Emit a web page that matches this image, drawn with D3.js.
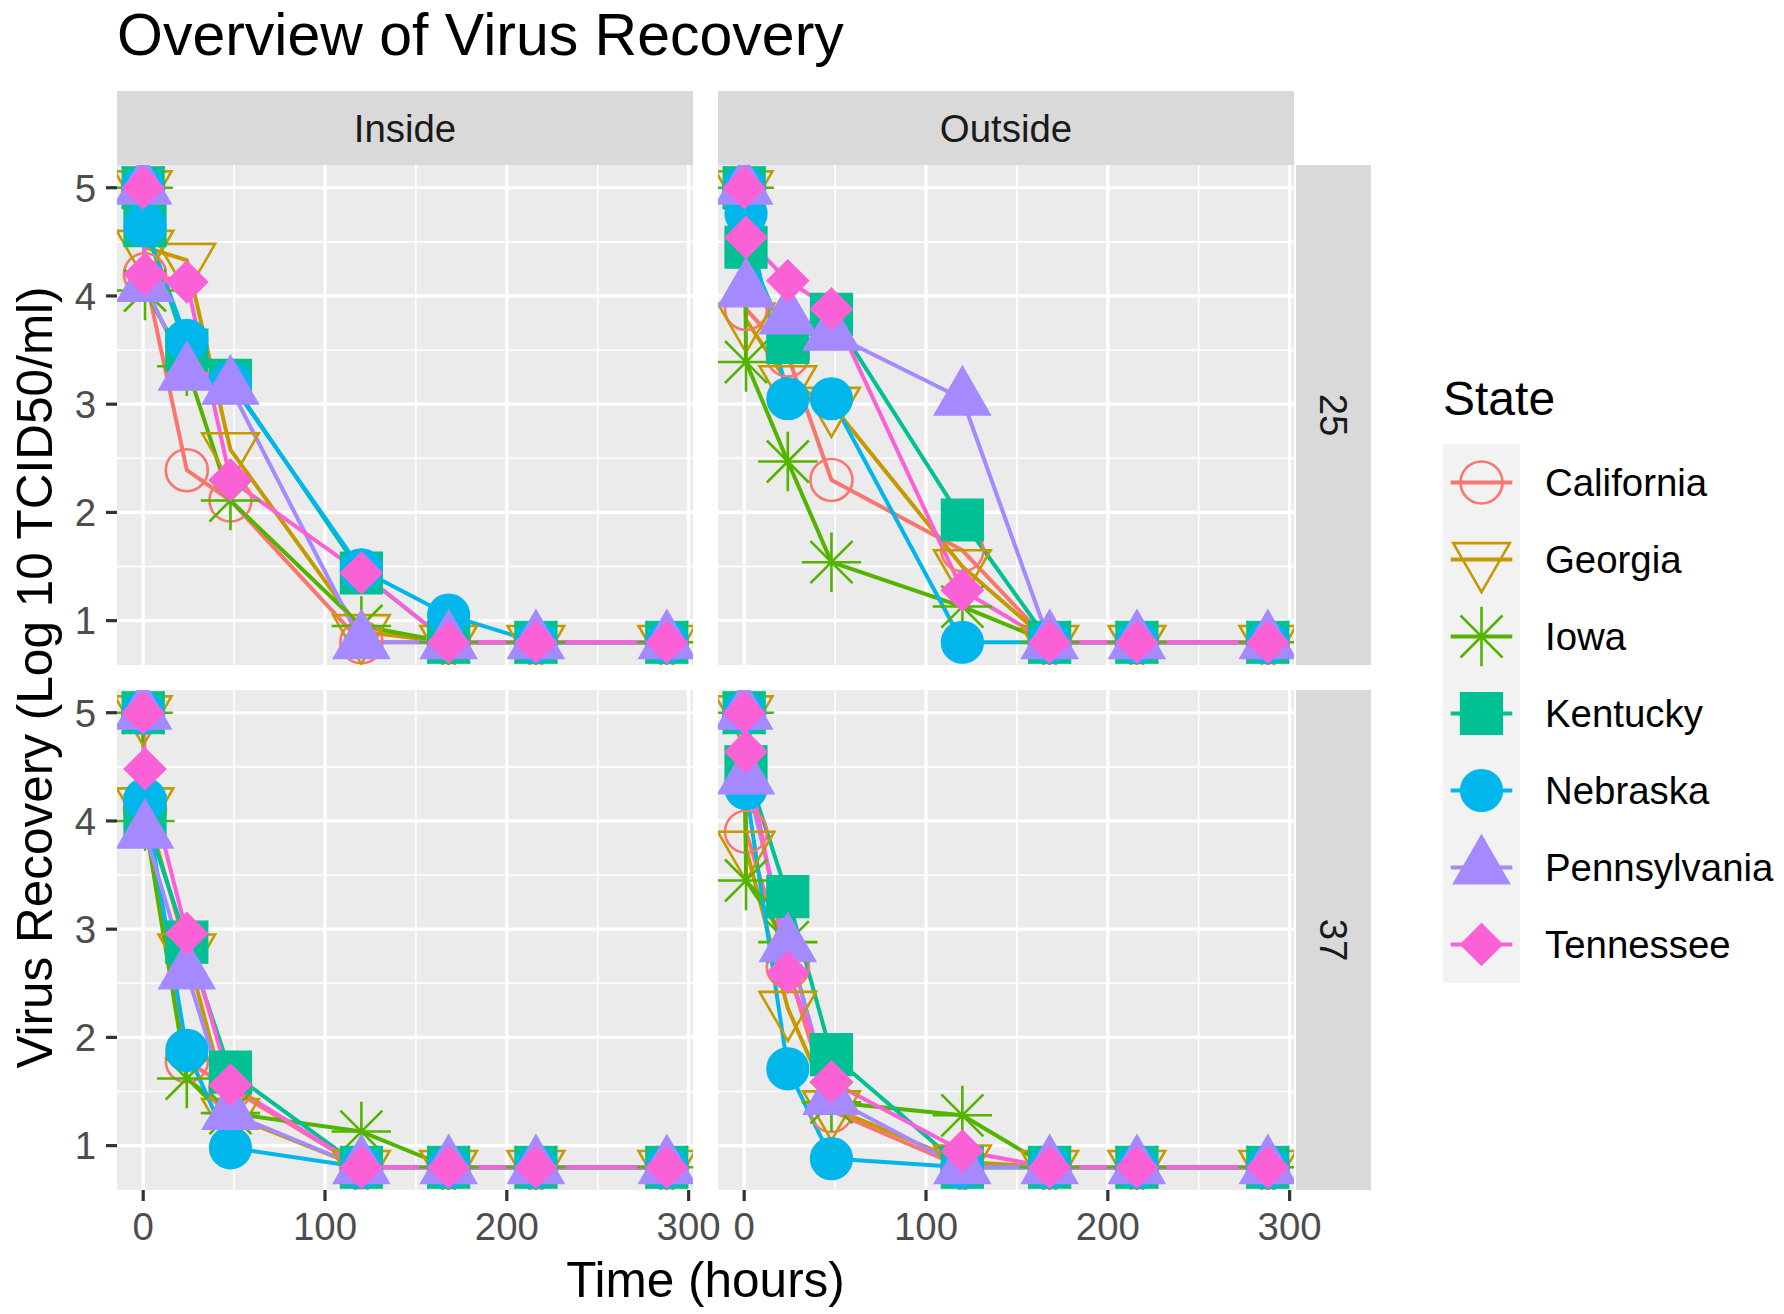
<!DOCTYPE html>
<html>
<head>
<meta charset="utf-8">
<style>
    body { margin: 0; background: #ffffff; }
    svg { display: block; font-family: "Liberation Sans", Arial, sans-serif; }
    .strip text { fill: #1a1a1a; font-size: 38.4px; }
    .tick-label { fill: #4d4d4d; font-size: 38.4px; }
</style>
</head>
<body>
<div id="chart"></div>
<script src="https://cdn.jsdelivr.net/npm/d3@7/dist/d3.min.js"></script>
<script>
// ---- data ----
var states = ["California", "Georgia", "Iowa", "Kentucky", "Nebraska", "Pennsylvania", "Tennessee"];
var colors = ["#F8766D", "#C49A00", "#53B400", "#00C094", "#00B6EB", "#A58AFF", "#FB61D7"];
var shapes = ["circleOpen", "triangleDownOpen", "asterisk", "square", "circle", "triangle", "diamond"];
var times = [0, 1, 24, 48, 120, 168, 216, 288];
var locations = ["Inside", "Outside"];
var temps = ["25", "37"];
var xTicks = [0, 100, 200, 300];
var xMinor = [50, 150, 250];
var yTicks = [1, 2, 3, 4, 5];
var yMinor = [1.5, 2.5, 3.5, 4.5];

// one row per state, columns follow `times`
var inside25 = [
    [5, 4.20, 2.39, 2.11, 0.80, 0.80, 0.8, 0.8],
    [5, 4.45, 4.33, 2.58, 0.90, 0.80, 0.8, 0.8],
    [5, 4.05, 3.35, 2.11, 0.95, 0.80, 0.8, 0.8],
    [5, 4.65, 3.50, 3.22, 1.44, 0.80, 0.8, 0.8],
    [5, 4.65, 3.59, 3.20, 1.47, 1.05, 0.8, 0.8],
    [5, 4.10, 3.28, 3.15, 0.80, 0.80, 0.8, 0.8],
    [5, 4.20, 4.13, 2.30, 1.44, 0.80, 0.8, 0.8]
];
var outside25 = [
    [5, 3.88, 3.45, 2.30, 1.65, 0.8, 0.8, 0.8],
    [5, 3.78, 3.20, 3.00, 1.50, 0.8, 0.8, 0.8],
    [5, 3.39, 2.47, 1.54, 1.13, 0.8, 0.8, 0.8],
    [5, 4.45, 3.57, 3.83, 1.93, 0.8, 0.8, 0.8],
    [5, 4.76, 3.05, 3.05, 0.80, 0.8, 0.8, 0.8],
    [5, 4.05, 3.80, 3.65, 3.05, 0.8, 0.8, 0.8],
    [5, 4.54, 4.14, 3.88, 1.28, 0.8, 0.8, 0.8]
];
var inside37 = [
    [5, 4.10, 1.78, 1.53, 0.80, 0.8, 0.8, 0.8],
    [5, 4.15, 2.80, 1.28, 0.80, 0.8, 0.8, 0.8],
    [5, 4.00, 1.62, 1.30, 1.13, 0.8, 0.8, 0.8],
    [5, 4.05, 2.88, 1.68, 0.80, 0.8, 0.8, 0.8],
    [5, 4.20, 1.88, 0.98, 0.80, 0.8, 0.8, 0.8],
    [5, 3.90, 2.60, 1.30, 0.80, 0.8, 0.8, 0.8],
    [5, 4.48, 2.96, 1.56, 0.80, 0.8, 0.8, 0.8]
];
var outside37 = [
    [5, 3.90, 2.65, 1.32, 0.80, 0.8, 0.8, 0.8],
    [5, 3.75, 2.27, 1.35, 0.85, 0.8, 0.8, 0.8],
    [5, 3.45, 2.88, 1.40, 1.28, 0.8, 0.8, 0.8],
    [5, 4.50, 3.30, 1.84, 0.80, 0.8, 0.8, 0.8],
    [5, 4.30, 1.71, 0.88, 0.80, 0.8, 0.8, 0.8],
    [5, 4.40, 2.85, 1.44, 0.80, 0.8, 0.8, 0.8],
    [5, 4.64, 2.60, 1.59, 0.95, 0.8, 0.8, 0.8]
];
var panelData = [[inside25, outside25], [inside37, outside37]];

// ---- layout ----
var W = 1784, H = 1314;
var panelW = 576, panelH = 500;
var colLeft = [117, 718];
var rowTop = [165, 690];
var stripH = 74, stripW = 75;
var R = 21; // R's point RADIUS in px

var svg = d3.select("#chart").append("svg")
    .attr("width", W)
    .attr("height", H);
var defs = svg.append("defs");

// symbol paths following R's pch geometry
function shapePath(type) {
    var r, xc, yc, s;
    switch (type) {
        case "circle":
        case "circleOpen":
            return "M" + R + ",0A" + R + "," + R + " 0 1,1 " + (-R) + ",0A" + R + "," + R + " 0 1,1 " + R + ",0Z";
        case "square":
            return "M" + (-R) + "," + (-R) + "H" + R + "V" + R + "H" + (-R) + "Z";
        case "triangle":
            r = 1.5551 * R; xc = 1.3468 * R; yc = 0.7776 * R;
            return "M0," + (-r) + "L" + xc + "," + yc + "L" + (-xc) + "," + yc + "Z";
        case "triangleDownOpen":
            r = 1.5551 * R; xc = 1.3468 * R; yc = 0.7776 * R;
            return "M0," + r + "L" + xc + "," + (-yc) + "L" + (-xc) + "," + (-yc) + "Z";
        case "diamond":
            return "M0," + (-R) + "L" + R + ",0L0," + R + "L" + (-R) + ",0Z";
        case "asterisk":
            s = Math.SQRT2 * R;
            return "M" + (-s) + ",0H" + s + "M0," + (-s) + "V" + s +
                "M" + (-R) + "," + (-R) + "L" + R + "," + R + "M" + (-R) + "," + R + "L" + R + "," + (-R);
    }
}
function styleShape(sel, i) {
    var t = shapes[i];
    var open = (t === "circleOpen" || t === "triangleDownOpen" || t === "asterisk");
    sel.attr("d", shapePath(t))
        .attr("fill", open ? "none" : colors[i])
        .attr("stroke", colors[i])
        .attr("stroke-width", open ? 2.6 : 1.2);
}

var line = d3.line();

temps.forEach(function(temp, ri) {
    locations.forEach(function(loc, ci) {
        var left = colLeft[ci], top = rowTop[ri];
        var x = d3.scaleLinear().domain([-14.4, 302.4]).range([left, left + panelW]);
        var y = d3.scaleLinear().domain([0.59, 5.21]).range([top + panelH, top]);

        var clipId = "clip" + ri + ci;
        defs.append("clipPath").attr("id", clipId).append("rect")
            .attr("x", left).attr("y", top)
            .attr("width", panelW).attr("height", panelH);

        var g = svg.append("g");
        g.append("rect")
            .attr("x", left).attr("y", top)
            .attr("width", panelW).attr("height", panelH)
            .attr("fill", "#EBEBEB");

        // minor grid
        g.selectAll(".ymin").data(yMinor).enter().append("line")
            .attr("x1", left).attr("x2", left + panelW)
            .attr("y1", function(d) { return y(d); }).attr("y2", function(d) { return y(d); })
            .attr("stroke", "#fff").attr("stroke-width", 1.6);
        g.selectAll(".xmin").data(xMinor).enter().append("line")
            .attr("y1", top).attr("y2", top + panelH)
            .attr("x1", function(d) { return x(d); }).attr("x2", function(d) { return x(d); })
            .attr("stroke", "#fff").attr("stroke-width", 1.6);
        // major grid
        g.selectAll(".ymaj").data(yTicks).enter().append("line")
            .attr("x1", left).attr("x2", left + panelW)
            .attr("y1", function(d) { return y(d); }).attr("y2", function(d) { return y(d); })
            .attr("stroke", "#fff").attr("stroke-width", 3.2);
        g.selectAll(".xmaj").data(xTicks).enter().append("line")
            .attr("y1", top).attr("y2", top + panelH)
            .attr("x1", function(d) { return x(d); }).attr("x2", function(d) { return x(d); })
            .attr("stroke", "#fff").attr("stroke-width", 3.2);

        var rows = panelData[ri][ci];
        var marks = g.append("g").attr("clip-path", "url(#" + clipId + ")");

        // lines first, then points (ggplot layer order)
        rows.forEach(function(vals, si) {
            marks.append("path")
                .attr("d", line(vals.map(function(v, k) { return [x(times[k]), y(v)]; })))
                .attr("fill", "none")
                .attr("stroke", colors[si])
                .attr("stroke-width", 4)
                .attr("stroke-linejoin", "round");
        });
        rows.forEach(function(vals, si) {
            marks.selectAll(".pt" + si).data(vals).enter().append("path")
                .attr("transform", function(v, k) { return "translate(" + x(times[k]) + "," + y(v) + ")"; })
                .call(styleShape, si);
        });

        // top strip
        if (ri === 0) {
            var st = svg.append("g").attr("class", "strip");
            st.append("rect")
                .attr("x", left).attr("y", top - stripH)
                .attr("width", panelW).attr("height", stripH)
                .attr("fill", "#D9D9D9");
            st.append("text")
                .attr("x", left + panelW / 2).attr("y", top - stripH / 2)
                .attr("dy", "0.36em")
                .attr("text-anchor", "middle")
                .text(loc);
        }
        // right strip
        if (ci === 1) {
            var sr = svg.append("g").attr("class", "strip");
            sr.append("rect")
                .attr("x", left + panelW + 2).attr("y", top)
                .attr("width", stripW).attr("height", panelH)
                .attr("fill", "#D9D9D9");
            sr.append("text")
                .attr("transform", "translate(" + (left + panelW + 2 + stripW / 2) + "," + (top + panelH / 2) + ") rotate(90)")
                .attr("dy", "0.36em")
                .attr("text-anchor", "middle")
                .text(temp);
        }
        // y axis
        if (ci === 0) {
            g.selectAll(".yt").data(yTicks).enter().append("line")
                .attr("x1", left - 11).attr("x2", left)
                .attr("y1", function(d) { return y(d); }).attr("y2", function(d) { return y(d); })
                .attr("stroke", "#333").attr("stroke-width", 3.2);
            g.selectAll(".yl").data(yTicks).enter().append("text")
                .attr("class", "tick-label")
                .attr("x", left - 21).attr("y", function(d) { return y(d); })
                .attr("dy", "0.36em")
                .attr("text-anchor", "end")
                .text(function(d) { return d; });
        }
        // x axis
        if (ri === 1) {
            g.selectAll(".xt").data(xTicks).enter().append("line")
                .attr("y1", top + panelH).attr("y2", top + panelH + 11)
                .attr("x1", function(d) { return x(d); }).attr("x2", function(d) { return x(d); })
                .attr("stroke", "#333").attr("stroke-width", 3.2);
            g.selectAll(".xl").data(xTicks).enter().append("text")
                .attr("class", "tick-label")
                .attr("x", function(d) { return x(d); }).attr("y", 1240)
                .attr("text-anchor", "middle")
                .text(function(d) { return d; });
        }
    });
});

// titles
svg.append("text")
    .attr("x", 117).attr("y", 55)
    .attr("font-size", 59).attr("fill", "#000")
    .text("Overview of Virus Recovery");
svg.append("text")
    .attr("x", (colLeft[0] + colLeft[1] + panelW) / 2).attr("y", 1297)
    .attr("font-size", 49.5).attr("fill", "#000")
    .attr("text-anchor", "middle")
    .text("Time (hours)");
svg.append("text")
    .attr("transform", "translate(52," + (rowTop[0] + (rowTop[1] + panelH - rowTop[0]) / 2) + ") rotate(-90)")
    .attr("font-size", 49.5).attr("fill", "#000")
    .attr("text-anchor", "middle")
    .text("Virus Recovery (Log 10 TCID50/ml)");

// legend
var lg = svg.append("g").attr("transform", "translate(1443,444)");
var keySize = 77;
lg.append("text")
    .attr("x", 0).attr("y", -29)
    .attr("font-size", 48).attr("fill", "#000")
    .text("State");
lg.append("rect")
    .attr("width", keySize).attr("height", keySize * states.length)
    .attr("fill", "#F2F2F2");
var keys = lg.selectAll(".key").data(states).enter().append("g")
    .attr("transform", function(d, i) { return "translate(0," + (i * keySize) + ")"; });
keys.append("line")
    .attr("x1", keySize * 0.1).attr("x2", keySize * 0.9)
    .attr("y1", keySize / 2).attr("y2", keySize / 2)
    .attr("stroke", function(d, i) { return colors[i]; })
    .attr("stroke-width", 4);
keys.each(function(d, i) {
    d3.select(this).append("path")
        .attr("transform", "translate(" + keySize / 2 + "," + keySize / 2 + ")")
        .call(styleShape, i);
});
keys.append("text")
    .attr("x", 102).attr("y", keySize / 2)
    .attr("dy", "0.36em")
    .attr("font-size", 38.4).attr("fill", "#000")
    .text(function(d) { return d; });
</script>
</body>
</html>
